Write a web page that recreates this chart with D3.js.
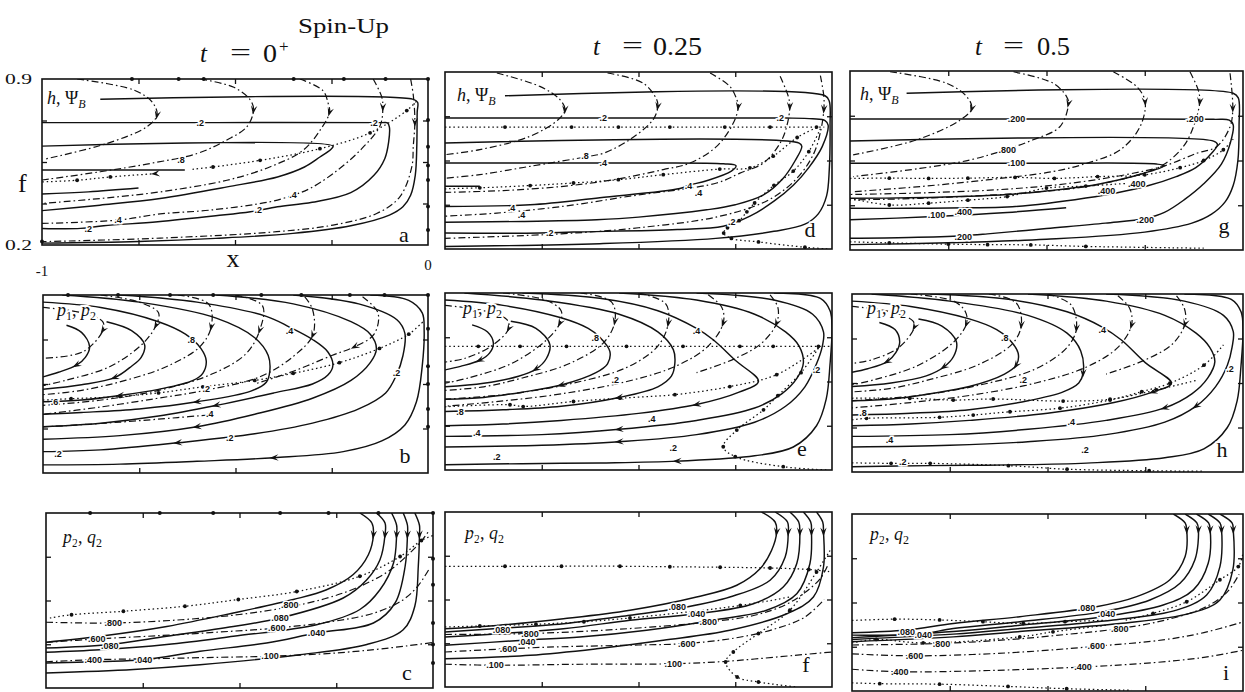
<!DOCTYPE html>
<html><head><meta charset="utf-8">
<script src="https://cdn.jsdelivr.net/npm/d3@7"></script>
<style>body{margin:0;background:#fff}svg{display:block}</style>
</head><body>
<svg id="c" width="1245" height="692"></svg>
<script>
// ---------- axes / ticks ----------
const xTicks = [-0.75, -0.5, -0.25];
const fTicks = [0.375, 0.55, 0.725];
const xEnds = [-1, 0], xEndText = ['-1', '0'];
const fEnds = [0.9, 0.2], fEndText = ['0.9', '0.2'];
const times = ['0', '0.25', '0.5'];

// ---------- panel a : h, Psi_B  t=0+ ----------
const aSolid = [
 [[-.849,.815],[-.04,.815],[-.027,.802],[-.028,.76],[-.029,.62],[-.033,.494],[-.045,.41],[-.065,.361],[-.1,.326],[-.2,.281],[-.35,.249],[-.55,.228],[-.75,.215],[-1,.208]],
 [[-1,.716],[-.55,.716],[-.12,.716],[-.105,.715],[-.1,.697],[-.102,.634],[-.112,.564],[-.14,.494],[-.2,.421],[-.3,.38],[-.39,.361],[-.46,.34],[-.55,.323],[-.7,.298],[-.84,.281],[-.9,.27],[-1,.27]],
 [[-1,.617],[-.246,.617],[-.252,.603],[-.28,.571],[-.32,.529],[-.39,.487],[-.52,.445],[-.694,.396],[-.85,.368],[-1,.345]],
 [[-1,.516],[-.63,.516]],
 [[-1,.415],[-.88,.424],[-.75,.44]]
];
const aSolidArrow = [-1,-1,-1,-1,-1];
const aDash = [
 [[-.909,.9],[-.763,.854],[-.715,.804],[-.702,.748],[-.728,.699],[-.832,.628],[-.996,.561]],
 [[-.59,.9],[-.503,.865],[-.46,.811],[-.452,.769],[-.469,.699],[-.521,.643],[-.598,.586],[-.719,.544],[-.849,.509],[-1,.474]],
 [[-.332,.9],[-.272,.851],[-.259,.799],[-.255,.76],[-.28,.683],[-.324,.599],[-.41,.529],[-.521,.473],[-.694,.424],[-.85,.396],[-1,.375]],
 [[-.142,.9],[-.12,.825],[-.117,.781],[-.124,.704],[-.176,.599],[-.246,.501],[-.306,.438],[-.35,.41],[-.41,.382],[-.565,.347],[-.694,.331],[-.803,.305],[-1,.291]],
 [[-.045,.9],[-.038,.83],[-.034,.718],[-.038,.62],[-.042,.529],[-.073,.403],[-.133,.333],[-.246,.284],[-.392,.256],[-.694,.229],[-1,.214]]
];
const aDashArrow = [3,3,3,2,2];
const aDot = [
 [[-.61,.519],[-.557,.529],[-.435,.557],[-.28,.606],[-.15,.673],[-.055,.767],[-.026,.813]],
 [[-.706,.501],[-.823,.487],[-.909,.473],[-1,.466]]
];
const aDotArrow = [-1,0];
const aLabels = [[-.59,.716,'.2'],[-.14,.716,'.2'],[-.44,.35,'.2'],[-.88,.27,'.2'],[-.64,.56,'.8'],[-.35,.41,'.4'],[-.803,.305,'.4']];
const aBorder = [[-.767,.9],[-.646,.9],[-.581,.9],[-.348,.9],[-.218,.9],[-.11,.9],[0,.9],[0,.727],[0,.614],[0,.535],[0,.474],[0,.362],[0,.263],[-1,.215]];

// ---------- panel d : t=0.25 ----------
const dSolid = [
 [[-.845,.806],[-.018,.806],[-.007,.784],[-.005,.69],[-.007,.515],[-.014,.41],[-.035,.34],[-.07,.298],[-.15,.27],[-.3,.242],[-.6,.221],[-1,.21]],
 [[-1,.718],[-.55,.718],[-.12,.718],[-.05,.715],[-.018,.708],[-.01,.69],[-.025,.606],[-.06,.522],[-.1,.452],[-.15,.389],[-.212,.33],[-.281,.29],[-.4,.277],[-.668,.267],[-.755,.263],[-1,.263]],
 [[-1,.619],[-.085,.619],[-.078,.606],[-.095,.55],[-.126,.48],[-.177,.414],[-.25,.375],[-.324,.355],[-.5,.326],[-.608,.316],[-.8,.309],[-1,.306]],
 [[-1,.54],[-.544,.54],[-.28,.537],[-.248,.529],[-.26,.508],[-.324,.47],[-.37,.452],[-.393,.439],[-.6,.403],[-.78,.375],[-1,.368]],
 [[-1,.448],[-.91,.448]]
];
const dSolidArrow = [-1,-1,-1,-1,-1];
const dDash = [
 [[-.866,.896],[-.755,.843],[-.703,.791],[-.69,.751],[-.707,.712],[-.78,.646],[-.91,.593],[-1,.573]],
 [[-.58,.896],[-.488,.856],[-.453,.791],[-.45,.764],[-.462,.712],[-.522,.633],[-.59,.579],[-.63,.566],[-.78,.527],[-.91,.494],[-1,.48]],
 [[-.315,.896],[-.264,.843],[-.246,.791],[-.242,.764],[-.255,.698],[-.298,.606],[-.367,.54],[-.436,.514],[-.565,.474],[-.694,.448],[-.85,.431],[-1,.424]],
 [[-.134,.883],[-.113,.804],[-.109,.764],[-.117,.685],[-.134,.619],[-.177,.54],[-.238,.5],[-.298,.461],[-.522,.409],[-.694,.369],[-.866,.342],[-1,.33]],
 [[-.03,.886],[-.021,.802],[-.021,.753],[-.028,.676],[-.045,.585],[-.075,.508],[-.12,.438],[-.18,.382],[-.3,.326],[-.5,.284],[-.7,.26],[-1,.242]]
];
const dDashArrow = [3,3,3,2,2];
const dDot = [
 [[-1,.682],[-.845,.682],[-.673,.682],[-.552,.682],[-.419,.682],[-.277,.682],[-.16,.682],[-.04,.682],[-.02,.682]],
 [[-.04,.68],[-.09,.641],[-.152,.567],[-.212,.521],[-.29,.516],[-.436,.494],[-.552,.474],[-.668,.461],[-.78,.451],[-.91,.442],[-1,.438]],
 [[-.03,.676],[-.06,.585],[-.1,.508],[-.15,.452],[-.2,.382],[-.22,.347],[-.24,.312],[-.27,.284],[-.28,.263],[-.26,.242],[-.19,.228],[-.07,.207],[-.01,.2]]
];
const dDotArrow = [-1,-1,-1];
const dLabels = [[-.591,.718,'.2'],[-.134,.718,'.2'],[-.729,.263,'.2'],[-.591,.54,'.4'],[-.371,.448,'.4'],[-.345,.424,'.4'],[-.828,.362,'.4'],[-.802,.336,'.4'],[-.638,.567,'.8'],[-.259,.309,'.2']];
const dBorder = [];

// ---------- panel g : t=0.5 ----------
const gSolid = [
 [[-.856,.813],[-.025,.813],[-.012,.795],[-.01,.69],[-.013,.55],[-.025,.452],[-.045,.389],[-.08,.34],[-.13,.305],[-.25,.27],[-.5,.242],[-.75,.228],[-1,.221]],
 [[-1,.712],[-.53,.712],[-.075,.711],[-.035,.708],[-.025,.69],[-.032,.62],[-.055,.536],[-.1,.459],[-.15,.396],[-.2,.347],[-.249,.323],[-.35,.305],[-.5,.284],[-.65,.263],[-.712,.256],[-.85,.249],[-1,.246]],
 [[-1,.626],[-.075,.626],[-.065,.613],[-.08,.578],[-.12,.522],[-.17,.487],[-.24,.452],[-.32,.424],[-.4,.403],[-.5,.382],[-.6,.368],[-.7,.365],[-.85,.363],[-1,.363]],
 [[-1,.539],[-.53,.539],[-.22,.536],[-.2,.529],[-.25,.501],[-.32,.473],[-.4,.449],[-.5,.431],[-.6,.417],[-.7,.41],[-.85,.404],[-1,.402]],
 [[-1,.318],[-.8,.33],[-.6,.347],[-.45,.365]]
];
const gSolidArrow = [-1,-1,-1,-1,-1];
const gDash = [
 [[-.898,.897],[-.754,.852],[-.703,.8],[-.69,.754],[-.72,.708],[-.83,.631],[-.992,.572]],
 [[-.584,.897],[-.483,.852],[-.449,.8],[-.444,.773],[-.466,.682],[-.534,.631],[-.606,.591],[-.695,.552],[-.822,.519],[-.992,.487]],
 [[-.33,.897],[-.27,.838],[-.249,.78],[-.262,.682],[-.313,.591],[-.398,.539],[-.483,.507],[-.652,.474],[-.822,.448],[-.992,.428]],
 [[-.135,.897],[-.114,.826],[-.11,.78],[-.126,.682],[-.152,.604],[-.203,.533],[-.27,.493],[-.398,.448],[-.567,.422],[-.822,.402],[-1,.396]],
 [[-.033,.891],[-.026,.754],[-.033,.682],[-.067,.604],[-.118,.578],[-.2,.529],[-.3,.494],[-.45,.459],[-.6,.438],[-.8,.424],[-1,.417]]
];
const gDashArrow = [3,3,2,2,1];
const gDot = [
 [[-1,.48],[-.9,.481],[-.8,.48],[-.7,.481],[-.58,.484],[-.48,.48],[-.37,.487],[-.25,.494],[-.16,.522],[-.1,.55],[-.05,.592],[-.025,.634]],
 [[-1,.402],[-.9,.376],[-.8,.383],[-.7,.395],[-.6,.409],[-.5,.442],[-.4,.45],[-.3,.46]],
 [[-1,.232],[-.9,.228],[-.75,.223],[-.65,.221],[-.54,.22],[-.4,.214],[-.1,.207]]
];
const gDotArrow = [-1,-1,-1];
const gLabels = [[-.576,.712,'.200'],[-.122,.712,'.200'],[-.249,.318,'.200'],[-.712,.252,'.200'],[-.576,.539,'.100'],[-.27,.46,'.400'],[-.347,.43,'.400'],[-.78,.337,'.100'],[-.712,.35,'.400'],[-.6,.59,'.800']];
const gBorder = [];

// ---------- panel b : p1, p2  t=0+ ----------
const bSolid = [
 [[-.939,.781],[-.9,.753],[-.879,.697],[-.89,.655],[-.913,.624],[-.96,.596],[-1,.578]],
 [[-.835,.795],[-.77,.76],[-.736,.704],[-.745,.655],[-.77,.62],[-.814,.575],[-.9,.547],[-1,.529]],
 [[-1,.872],[-.85,.851],[-.7,.795],[-.63,.746],[-.59,.69],[-.576,.641],[-.585,.592],[-.61,.564],[-.7,.529],[-.8,.505],[-.9,.487],[-1,.48]],
 [[-.95,.9],[-.75,.872],[-.55,.809],[-.45,.732],[-.415,.662],[-.411,.599],[-.42,.557],[-.46,.522],[-.6,.48],[-.75,.452],[-.9,.438],[-1,.431]],
 [[-.8,.9],[-.6,.872],[-.42,.816],[-.36,.774],[-.3,.725],[-.26,.676],[-.247,.624],[-.26,.585],[-.3,.55],[-.4,.515],[-.55,.466],[-.7,.424],[-.85,.396],[-1,.382]],
 [[-.55,.9],[-.35,.865],[-.2,.795],[-.15,.746],[-.134,.69],[-.15,.634],[-.2,.564],[-.3,.494],[-.45,.431],[-.6,.382],[-.8,.347],[-1,.333]],
 [[-.35,.9],[-.18,.865],[-.08,.802],[-.06,.749],[-.065,.662],[-.082,.585],[-.11,.515],[-.18,.452],[-.3,.396],[-.45,.354],[-.65,.319],[-.85,.291],[-1,.284]],
 [[-.15,.9],[-.05,.879],[-.015,.83],[-.01,.76],[-.015,.62],[-.03,.48],[-.06,.389],[-.12,.326],[-.22,.284],[-.4,.26],[-.6,.246],[-.8,.235],[-1,.232]]
];
const bSolidArrow = [4,5,9,8,10,9,10,9];
const bDash = [
 [[-1,.851],[-.9,.83],[-.845,.795],[-.844,.762],[-.896,.677],[-1,.651]],
 [[-.85,.9],[-.75,.872],[-.7,.83],[-.706,.782],[-.74,.71],[-.827,.618],[-.94,.565],[-1,.543]],
 [[-.65,.9],[-.57,.865],[-.563,.775],[-.593,.696],[-.68,.618],[-.784,.565],[-.896,.526],[-1,.508]],
 [[-.5,.9],[-.43,.858],[-.437,.762],[-.472,.67],[-.558,.591],[-.697,.526],[-.853,.486],[-1,.466]],
 [[-.32,.893],[-.3,.844],[-.299,.743],[-.351,.657],[-.437,.578],[-.576,.526],[-.706,.493],[-.853,.459],[-1,.431]],
 [[-.17,.893],[-.13,.83],[-.14,.746],[-.19,.697],[-.25,.662],[-.35,.6],[-.45,.55]],
 [[-.57,.428],[-.65,.418],[-.8,.4],[-1,.381]]
];
const bDashArrow = [3,3,2,2,2,3,0];
const bDot = [
 [[-1,.487],[-.927,.492],[-.8,.501],[-.7,.515],[-.585,.539],[-.45,.564],[-.35,.592],[-.23,.634],[-.126,.69],[-.05,.746],[-.013,.795]]
];
const bDotArrow = [-1];
const bLabels = [[-.615,.725,'.8'],[-.97,.48,'.6'],[-.576,.532,'.2'],[-.567,.434,'.4'],[-.082,.592,'.2'],[-.515,.34,'.2'],[-.961,.276,'.2'],[-.36,.76,'.4']];
const bBorder = [[-.935,.9],[-.805,.9],[-.67,.9],[-.558,.9],[-.433,.9],[-.329,.9],[-.203,.9],[-.113,.9],[0,.9],[0,.767],[0,.62],[0,.55],[0,.452],[0,.382]];

// ---------- panel e : p1, p2  t=0.25 ----------
const eSolid = [
 [[-.93,.774],[-.89,.746],[-.875,.702],[-.885,.662],[-.91,.634],[-.96,.61],[-1,.596]],
 [[-.83,.788],[-.765,.76],[-.729,.696],[-.738,.641],[-.765,.599],[-.81,.571],[-.9,.543],[-1,.529]],
 [[-1,.872],[-.85,.851],[-.7,.802],[-.63,.76],[-.6,.725],[-.574,.669],[-.58,.62],[-.61,.585],[-.7,.536],[-.8,.508],[-.9,.487],[-1,.48]],
 [[-.95,.9],[-.75,.872],[-.55,.816],[-.45,.746],[-.41,.676],[-.406,.623],[-.415,.571],[-.45,.529],[-.55,.487],[-.7,.452],[-.85,.438],[-1,.431]],
 [[-.8,.9],[-.6,.879],[-.45,.83],[-.35,.76],[-.307,.715],[-.25,.634],[-.19,.55],[-.24,.508],[-.35,.459],[-.5,.424],[-.7,.396],[-.85,.382],[-1,.375]],
 [[-.55,.9],[-.35,.872],[-.2,.816],[-.12,.746],[-.085,.69],[-.074,.623],[-.09,.564],[-.13,.501],[-.2,.445],[-.35,.396],[-.55,.361],[-.75,.34],[-1,.333]],
 [[-.35,.9],[-.15,.872],[-.05,.816],[-.022,.746],[-.025,.69],[-.04,.62],[-.07,.529],[-.12,.452],[-.2,.389],[-.35,.34],[-.55,.312],[-.75,.298],[-1,.291]],
 [[-.15,.9],[-.03,.879],[-.005,.83],[0,.76],[-.005,.62],[-.015,.48],[-.04,.375],[-.1,.291],[-.2,.256],[-.4,.235],[-.6,.228],[-.8,.225],[-1,.221]]
];
const eSolidArrow = [4,4,8,8,8,10,10,9];
const eDash = [
 [[-1,.851],[-.9,.83],[-.84,.795],[-.835,.76],[-.88,.69],[-.95,.641],[-1,.627]],
 [[-.85,.9],[-.74,.872],[-.7,.83],[-.703,.781],[-.74,.711],[-.83,.62],[-.94,.564],[-1,.543]],
 [[-.65,.9],[-.57,.865],[-.561,.788],[-.59,.704],[-.68,.62],[-.8,.564],[-.9,.529],[-1,.515]],
 [[-.5,.9],[-.43,.858],[-.423,.781],[-.45,.69],[-.53,.606],[-.67,.543],[-.83,.501],[-1,.48]],
 [[-.32,.893],[-.285,.844],[-.281,.781],[-.32,.69],[-.4,.613],[-.53,.55],[-.7,.501],[-.85,.473],[-1,.452]],
 [[-.16,.893],[-.14,.844],[-.143,.781],[-.18,.704],[-.25,.641],[-.35,.585]]
];
const eDashArrow = [3,3,2,2,2,2];
const eDot = [
 [[-1,.689],[-.914,.689],[-.806,.689],[-.686,.689],[-.531,.689],[-.385,.689],[-.238,.689],[-.152,.689],[-.035,.689],[0,.689]],
 [[-1,.45],[-.832,.458],[-.798,.451],[-.668,.471],[-.548,.484],[-.406,.498],[-.264,.53],[-.143,.577],[-.035,.682]],
 [[-.035,.682],[-.08,.585],[-.14,.494],[-.177,.438],[-.246,.358],[-.281,.292],[-.25,.253],[-.126,.213],[-.01,.2]]
];
const eDotArrow = [-1,-1,-1];
const eLabels = [[-.612,.722,'.8'],[-.56,.557,'.2'],[-.961,.431,'.8'],[-.466,.404,'.4'],[-.918,.346,'.4'],[-.04,.596,'.2'],[-.41,.286,'.2'],[-.866,.253,'.2'],[-.35,.75,'.4']];
const eBorder = [];

// ---------- panel h : p1, p2  t=0.5 ----------
const hSolid = [
 [[-.93,.788],[-.89,.76],[-.878,.712],[-.888,.669],[-.91,.634],[-.96,.606],[-1,.592]],
 [[-.83,.802],[-.77,.774],[-.733,.712],[-.74,.655],[-.765,.613],[-.81,.578],[-.9,.55],[-1,.536]],
 [[-1,.872],[-.85,.851],[-.7,.802],[-.63,.76],[-.6,.725],[-.575,.667],[-.58,.62],[-.61,.585],[-.7,.536],[-.8,.508],[-.9,.487],[-1,.48]],
 [[-.95,.9],[-.75,.872],[-.55,.816],[-.45,.746],[-.415,.676],[-.409,.588],[-.42,.55],[-.46,.515],[-.55,.48],[-.7,.445],[-.85,.431],[-1,.424]],
 [[-.8,.9],[-.6,.879],[-.45,.83],[-.36,.77],[-.311,.719],[-.25,.63],[-.183,.549],[-.23,.515],[-.33,.473],[-.5,.431],[-.7,.403],[-.85,.389],[-1,.382]],
 [[-.55,.9],[-.35,.872],[-.2,.816],[-.12,.746],[-.085,.69],[-.072,.634],[-.09,.57],[-.13,.508],[-.2,.452],[-.35,.403],[-.55,.368],[-.75,.347],[-1,.34]],
 [[-.35,.9],[-.15,.872],[-.05,.816],[-.025,.753],[-.028,.69],[-.04,.62],[-.07,.536],[-.12,.459],[-.2,.396],[-.35,.347],[-.55,.319],[-.75,.305],[-1,.298]],
 [[-.15,.9],[-.03,.879],[-.005,.83],[0,.76],[-.005,.62],[-.015,.48],[-.04,.375],[-.1,.291],[-.2,.256],[-.4,.235],[-.6,.228],[-.8,.225],[-1,.221]]
];
const hSolidArrow = [4,4,6,5,7,8,7,-1];
const hDash = [
 [[-1,.851],[-.9,.83],[-.845,.795],[-.84,.771],[-.88,.69],[-.95,.641],[-1,.627]],
 [[-.85,.9],[-.74,.872],[-.71,.83],[-.707,.784],[-.74,.711],[-.83,.62],[-.94,.564],[-1,.543]],
 [[-.65,.9],[-.58,.865],[-.567,.778],[-.59,.704],[-.68,.62],[-.8,.564],[-.9,.529],[-1,.515]],
 [[-.5,.9],[-.44,.858],[-.426,.765],[-.45,.69],[-.53,.606],[-.67,.543],[-.83,.501],[-1,.48]],
 [[-.32,.893],[-.29,.844],[-.285,.778],[-.32,.69],[-.4,.613],[-.53,.55],[-.7,.501],[-.85,.473],[-1,.452]],
 [[-.17,.893],[-.15,.844],[-.148,.784],[-.18,.704],[-.25,.641],[-.35,.585]]
];
const hDashArrow = [3,3,2,2,2,2];
const hDot = [
 [[-1,.49],[-.852,.49],[-.741,.483],[-.639,.487],[-.46,.479],[-.34,.486],[-.221,.523],[-.12,.56]],
 [[-1,.405],[-.963,.411],[-.776,.415],[-.69,.424],[-.596,.437],[-.468,.451],[-.34,.483],[-.259,.516],[-.187,.549],[-.1,.62],[-.05,.7]],
 [[-1,.236],[-.9,.234],[-.8,.234],[-.6,.225],[-.45,.211],[-.24,.205],[-.1,.203]]
];
const hDotArrow = [-1,-1,-1];
const hLabels = [[-.609,.726,'.8'],[-.562,.562,'.2'],[-.972,.431,'.8'],[-.439,.398,'.4'],[-.904,.326,'.4'],[-.033,.607,'.2'],[-.404,.287,'.2'],[-.87,.241,'.2'],[-.36,.76,'.4']];
const hBorder = [];

// ---------- panel c : p2, q2  t=0+ ----------
const cSolid = [
 [[-.189,.9],[-.158,.86],[-.154,.813],[-.167,.733],[-.206,.654],[-.275,.593],[-.361,.554],[-.516,.5],[-.688,.446],[-.86,.407],[-1,.383]],
 [[-.146,.9],[-.124,.86],[-.124,.813],[-.137,.713],[-.171,.633],[-.232,.56],[-.395,.48],[-.516,.446],[-.688,.407],[-.835,.374],[-1,.36]],
 [[-.107,.9],[-.094,.851],[-.094,.813],[-.102,.7],[-.137,.593],[-.189,.514],[-.301,.453],[-.516,.407],[-.688,.374],[-.86,.353],[-1,.343]],
 [[-.077,.9],[-.066,.851],[-.066,.813],[-.072,.687],[-.098,.54],[-.154,.46],[-.301,.42],[-.43,.38],[-.602,.347],[-.748,.313],[-.86,.306],[-1,.3]],
 [[-.047,.9],[-.035,.851],[-.035,.813],[-.038,.687],[-.047,.527],[-.077,.433],[-.171,.374],[-.344,.333],[-.602,.293],[-.774,.274],[-1,.26]]
];
const cSolidArrow = [2,2,2,2,2];
const cDash = [
 [[-1,.463],[-.83,.46],[-.65,.473],[-.5,.494],[-.38,.522],[-.28,.557],[-.2,.599],[-.12,.662],[-.07,.725],[-.03,.788],[-.01,.83]],
 [[-1,.382],[-.87,.396],[-.7,.41],[-.55,.424],[-.404,.44],[-.26,.466],[-.15,.501],[-.08,.55],[-.04,.606],[-.01,.676]],
 [[-1,.305],[-.878,.313],[-.7,.318],[-.55,.323],[-.421,.327],[-.25,.34],[-.15,.354],[-.07,.368],[0,.382]]
];
const cDashArrow = [-1,-1,-1];
const cDot = [
 [[-.99,.48],[-.934,.493],[-.8,.507],[-.641,.527],[-.503,.554],[-.352,.586],[-.189,.647],[-.085,.726],[-.03,.79],[0,.81]]
];
const cDotArrow = [-1];
const cLabels = [[-.835,.367,'.080'],[-.869,.396,'.600'],[-.878,.313,'.400'],[-.748,.313,'.040'],[-.826,.46,'.800'],[-.37,.533,'.800'],[-.395,.48,'.080'],[-.404,.44,'.600'],[-.301,.42,'.040'],[-.421,.327,'.100']];
const cBorder = [[-.886,.9],[-.706,.9],[-.568,.9],[-.395,.9],[-.27,.9],[-.141,.9],[0,.9],[0,.717],[0,.613],[0,.46],[0,.374],[0,.3]];

// ---------- panel f : p2, q2  t=0.25 ----------
const fSolid = [
 [[-.182,.9],[-.147,.86],[-.143,.82],[-.156,.747],[-.186,.673],[-.246,.607],[-.35,.56],[-.522,.507],[-.694,.473],[-.866,.446],[-1,.433]],
 [[-.147,.9],[-.115,.86],[-.113,.82],[-.121,.72],[-.16,.627],[-.264,.56],[-.376,.52],[-.522,.487],[-.694,.453],[-.875,.433],[-1,.42]],
 [[-.109,.9],[-.086,.86],[-.083,.82],[-.091,.694],[-.126,.6],[-.203,.533],[-.35,.493],[-.522,.467],[-.694,.433],[-1,.4]],
 [[-.074,.9],[-.055,.86],[-.053,.82],[-.057,.694],[-.091,.573],[-.169,.507],[-.307,.467],[-.479,.427],[-.651,.4],[-.798,.387],[-1,.367]],
 [[-.04,.9],[-.024,.86],[-.022,.82],[-.022,.68],[-.048,.56],[-.117,.493],[-.264,.427],[-.436,.387],[-.608,.353],[-.78,.327],[-1,.313]]
];
const fSolidArrow = [2,2,2,2,2];
const fDash = [
 [[-1,.34],[-.836,.353],[-.7,.361],[-.5,.368],[-.375,.374],[-.25,.396],[-.15,.431],[-.07,.48],[-.02,.55]],
 [[-1,.291],[-.87,.287],[-.65,.291],[-.41,.293],[-.28,.302],[-.2,.312],[-.1,.326],[0,.34]],
 [[-1,.41],[-.78,.414],[-.55,.431],[-.32,.46],[-.2,.487],[-.12,.529],[-.07,.578],[-.03,.634],[-.01,.69]]
];
const fDashArrow = [-1,-1,-1];
const fDot = [
 [[-1,.683],[-.845,.683],[-.699,.683],[-.548,.683],[-.419,.681],[-.289,.679],[-.16,.676],[-.06,.67],[0,.66]],
 [[-.005,.746],[-.04,.66],[-.109,.507],[-.19,.414],[-.255,.34],[-.275,.3],[-.245,.24],[-.19,.22],[-.09,.2]],
 [[-1,.44],[-.91,.444],[-.765,.451],[-.641,.461],[-.522,.476],[-.237,.526],[-.109,.56]]
];
const fDotArrow = [-1,-1,-1];
const fLabels = [[-.854,.427,'.080'],[-.4,.52,'.080'],[-.78,.413,'.800'],[-.789,.38,'.040'],[-.836,.353,'.600'],[-.35,.493,'.040'],[-.32,.46,'.800'],[-.375,.374,'.600'],[-.871,.287,'.100'],[-.41,.293,'.100']];
const fBorder = [];

// ---------- panel i : p2, q2  t=0.5 ----------
const iSolid = [
 [[-.178,.9],[-.148,.865],[-.144,.838],[-.148,.732],[-.187,.64],[-.272,.573],[-.375,.533],[-.571,.494],[-.741,.467],[-.861,.441],[-1,.43]],
 [[-.148,.9],[-.118,.865],[-.114,.838],[-.123,.719],[-.161,.626],[-.238,.56],[-.358,.514],[-.571,.474],[-.741,.447],[-.827,.425],[-1,.421]],
 [[-.119,.9],[-.088,.865],[-.084,.838],[-.089,.705],[-.127,.6],[-.204,.54],[-.358,.494],[-.571,.46],[-.741,.435],[-1,.411]],
 [[-.089,.9],[-.059,.865],[-.055,.838],[-.059,.692],[-.093,.58],[-.17,.52],[-.332,.481],[-.571,.447],[-.741,.425],[-1,.404]],
 [[-.059,.9],[-.028,.865],[-.025,.838],[-.026,.679],[-.059,.56],[-.136,.507],[-.315,.467],[-.571,.435],[-.741,.414],[-1,.395]]
];
const iSolidArrow = [2,2,2,2,2];
const iDash = [
 [[-1,.382],[-.771,.388],[-.6,.403],[-.45,.424],[-.315,.447],[-.2,.48],[-.1,.529],[-.04,.592],[-.01,.662]],
 [[-1,.347],[-.84,.339],[-.6,.351],[-.375,.377],[-.2,.403],[-.1,.431],[0,.473]],
 [[-1,.286],[-.878,.276],[-.65,.281],[-.409,.295],[-.23,.312],[-.1,.333],[0,.361]]
];
const iDashArrow = [-1,-1,-1];
const iDot = [
 [[-1,.479],[-.891,.484],[-.776,.481],[-.665,.474],[-.562,.467],[-.455,.474],[-.35,.48]],
 [[-1,.39],[-.938,.404],[-.818,.39],[-.571,.414],[-.486,.434],[-.35,.46]],
 [[-1,.232],[-.929,.229],[-.776,.227],[-.601,.218],[-.451,.209],[-.285,.203]],
 [[-.3,.48],[-.23,.507],[-.144,.553],[-.059,.64],[-.012,.692],[0,.745]]
];
const iDotArrow = [-1,-1,-1,-1];
const iLabels = [[-.4,.527,'.080'],[-.349,.507,'.040'],[-.861,.434,'.080'],[-.818,.421,'.040'],[-.771,.388,'.800'],[-.315,.447,'.800'],[-.84,.339,'.600'],[-.375,.377,'.600'],[-.878,.276,'.400'],[-.409,.295,'.400']];
const iBorder = [];

// ---------- layout ----------
const panels = [
 {box:[42,79,428,245], S:aSolid,SA:aSolidArrow,D:aDash,DA:aDashArrow,O:aDot,OA:aDotArrow,lab:aLabels,bd:aBorder,title:'h',tp:[47,104],letter:'a',lp:[404,242]},
 {box:[445,72,832,249], S:dSolid,SA:dSolidArrow,D:dDash,DA:dDashArrow,O:dDot,OA:dDotArrow,lab:dLabels,bd:dBorder,title:'h',tp:[457,101],letter:'d',lp:[810,237]},
 {box:[850,71,1243,250], S:gSolid,SA:gSolidArrow,D:gDash,DA:gDashArrow,O:gDot,OA:gDotArrow,lab:gLabels,bd:gBorder,title:'h',tp:[860,100],letter:'g',lp:[1224,233]},
 {box:[43,295,428,473], S:bSolid,SA:bSolidArrow,D:bDash,DA:bDashArrow,O:bDot,OA:bDotArrow,lab:bLabels,bd:bBorder,title:'p',tp:[57,316],letter:'b',lp:[405,463]},
 {box:[445,293,832,470], S:eSolid,SA:eSolidArrow,D:eDash,DA:eDashArrow,O:eDot,OA:eDotArrow,lab:eLabels,bd:eBorder,title:'p',tp:[463,314],letter:'e',lp:[802,456]},
 {box:[852,294,1243,472], S:hSolid,SA:hSolidArrow,D:hDash,DA:hDashArrow,O:hDot,OA:hDotArrow,lab:hLabels,bd:hBorder,title:'p',tp:[867,314],letter:'h',lp:[1222,457]},
 {box:[46,513,433,688], S:cSolid,SA:cSolidArrow,D:cDash,DA:cDashArrow,O:cDot,OA:cDotArrow,lab:cLabels,bd:cBorder,title:'q',tp:[63,543],letter:'c',lp:[407,680]},
 {box:[445,512,832,687], S:fSolid,SA:fSolidArrow,D:fDash,DA:fDashArrow,O:fDot,OA:fDotArrow,lab:fLabels,bd:fBorder,title:'q',tp:[465,539],letter:'f',lp:[806,672]},
 {box:[852,514,1243,691], S:iSolid,SA:iSolidArrow,D:iDash,DA:iDashArrow,O:iDot,OA:iDotArrow,lab:iLabels,bd:iBorder,title:'q',tp:[870,540],letter:'i',lp:[1226,680]}
];

const svg = d3.select('#c');
const INK = '#111';
const SERIF = "'Liberation Serif','Times New Roman',Times,serif";
const defs = svg.append('defs');

panels.forEach((p, k) => {
  const [L, T, R, B] = p.box;
  const x = d3.scaleLinear().domain([-1, 0]).range([L, R]);
  const y = d3.scaleLinear().domain([0.2, 0.9]).range([B, T]);
  defs.append('clipPath').attr('id', 'cl' + k).append('rect')
    .attr('x', L).attr('y', T).attr('width', R - L).attr('height', B - T);
  const g = svg.append('g');
  const cg = g.append('g').attr('clip-path', `url(#cl${k})`);
  const line = d3.line().x(d => x(d[0])).y(d => y(d[1])).curve(d3.curveCatmullRom.alpha(0.5));

  const draw = (curves, dash, w) => cg.append('g').selectAll('path').data(curves).join('path')
    .attr('d', line).attr('fill', 'none').attr('stroke', INK).attr('stroke-width', w)
    .attr('stroke-dasharray', dash).attr('stroke-linecap', 'butt');
  draw(p.S, null, 1.45);
  draw(p.D, '7,3,1.6,3', 1.2);
  draw(p.O, '1.5,2.8', 1.25);

  p.O.forEach(c => {
    cg.append('g').selectAll('circle').data(c.slice(1, -1)).join('circle')
      .attr('cx', d => x(d[0])).attr('cy', d => y(d[1])).attr('r', 1.9).attr('fill', INK);
  });

  const arrow = (c, i) => {
    if (i < 0) return;
    const P = c.map(d => [x(d[0]), y(d[1])]);
    const a = P[Math.max(0, i - 1)], b = P[Math.min(P.length - 1, i + 1)];
    let dx = b[0] - a[0], dy = b[1] - a[1];
    const n = Math.hypot(dx, dy) || 1; dx /= n; dy /= n;
    const [px, py] = P[i]; const s = 4.5, w = 3.2;
    const tip = [px + dx * s, py + dy * s];
    const bl = [px - dx * s - dy * w, py - dy * s + dx * w];
    const br = [px - dx * s + dy * w, py - dy * s - dx * w];
    const mid = [px - dx * s * 0.2, py - dy * s * 0.2];
    cg.append('path').attr('d', `M${tip}L${bl}L${mid}L${br}Z`).attr('fill', INK);
  };
  p.S.forEach((c, j) => arrow(c, p.SA[j]));
  p.D.forEach((c, j) => arrow(c, p.DA[j]));
  p.O.forEach((c, j) => arrow(c, p.OA[j]));

  g.append('g').selectAll('text').data(p.lab).join('text')
    .attr('x', d => x(d[0])).attr('y', d => y(d[1])).attr('dy', '0.35em')
    .attr('text-anchor', 'middle').text(d => d[2])
    .attr('font-family', "'Liberation Sans',Arial,sans-serif").attr('font-size', 9).attr('font-weight', 'bold')
    .attr('fill', INK).attr('stroke', '#fff').attr('stroke-width', 3).attr('paint-order', 'stroke');

  g.append('rect').attr('x', L).attr('y', T).attr('width', R - L).attr('height', B - T)
    .attr('fill', 'none').attr('stroke', INK).attr('stroke-width', 1.6);

  const ax = (gen, tr) => {
    const a = g.append('g').attr('transform', tr).call(gen);
    a.select('.domain').remove(); a.selectAll('text').remove();
    a.selectAll('line').attr('stroke', INK).attr('stroke-width', 1.3);
  };
  ax(d3.axisBottom(x).tickValues(xTicks).tickSize(-5), `translate(0,${B})`);
  ax(d3.axisTop(x).tickValues(xTicks).tickSize(-5), `translate(0,${T})`);
  ax(d3.axisLeft(y).tickValues(fTicks).tickSize(-5), `translate(${L},0)`);
  ax(d3.axisRight(y).tickValues(fTicks).tickSize(-5), `translate(${R},0)`);

  g.append('g').selectAll('circle').data(p.bd).join('circle')
    .attr('cx', d => x(d[0])).attr('cy', d => y(d[1])).attr('r', 2).attr('fill', INK);

  const t = g.append('text').attr('x', p.tp[0]).attr('y', p.tp[1])
    .attr('font-family', SERIF).attr('font-size', 18).attr('fill', INK)
    .attr('stroke', '#fff').attr('stroke-width', 4).attr('paint-order', 'stroke');
  if (p.title === 'h') {
    t.append('tspan').attr('font-style', 'italic').text('h');
    t.append('tspan').text(', Ψ');
    t.append('tspan').attr('font-style', 'italic').attr('font-size', 12).attr('dy', 4).text('B');
  } else {
    const sy = p.title === 'p' ? ['p', '1', 'p', '2'] : ['p', '2', 'q', '2'];
    t.append('tspan').attr('font-style', 'italic').text(sy[0]);
    t.append('tspan').attr('font-size', 12).attr('dy', 4).text(sy[1]);
    t.append('tspan').attr('dy', -4).text(', ');
    t.append('tspan').attr('font-style', 'italic').text(sy[2]);
    t.append('tspan').attr('font-size', 12).attr('dy', 4).text(sy[3]);
  }

  g.append('text').attr('x', p.lp[0]).attr('y', p.lp[1]).attr('text-anchor', 'middle')
    .attr('font-family', SERIF).attr('font-size', 22).attr('fill', INK)
    .attr('stroke', '#fff').attr('stroke-width', 3).attr('paint-order', 'stroke').text(p.letter);

  if (k === 0) {
    svg.selectAll(null).data(xEnds).join('text')
      .attr('x', d => x(d)).attr('y', (d, i) => i === 0 ? 276 : 270).attr('text-anchor', 'middle')
      .attr('font-family', SERIF).attr('font-size', 15).attr('fill', INK).text((d, i) => xEndText[i]);
    svg.selectAll(null).data(fEnds).join('text')
      .attr('x', 5).attr('y', d => y(d) + 5)
      .attr('font-family', SERIF).attr('font-size', 15).attr('fill', INK)
      .attr('textLength', 27).attr('lengthAdjust', 'spacingAndGlyphs').text((d, i) => fEndText[i]);
    svg.append('text').attr('x', 18).attr('y', 192).attr('font-family', SERIF).attr('font-size', 26).attr('fill', INK).text('f');
    svg.append('text').attr('x', 233).attr('y', 267).attr('text-anchor', 'middle').attr('font-family', SERIF).attr('font-size', 26).attr('fill', INK).text('x');
  }
});

svg.append('text').attr('x', 298).attr('y', 33).attr('font-family', SERIF).attr('font-size', 22)
  .attr('fill', INK).attr('textLength', 91).attr('lengthAdjust', 'spacingAndGlyphs').text('Spin-Up');

const colTitle = (tx, ex, nx, base, nw, val, plus) => {
  svg.append('text').attr('x', tx).attr('y', base).attr('font-family', SERIF).attr('font-size', 25)
    .attr('font-style', 'italic').attr('fill', INK).text('t');
  svg.append('text').attr('x', ex).attr('y', base - 1).attr('font-family', SERIF).attr('font-size', 25)
    .attr('fill', INK).attr('textLength', 21).attr('lengthAdjust', 'spacingAndGlyphs').text('=');
  svg.append('text').attr('x', nx).attr('y', base).attr('font-family', SERIF).attr('font-size', 25)
    .attr('fill', INK).attr('textLength', nw).attr('lengthAdjust', 'spacingAndGlyphs').text(val);
  if (plus) svg.append('text').attr('x', nx + nw + 2).attr('y', base - 10).attr('font-family', SERIF)
    .attr('font-size', 17).attr('fill', INK).text('+');
};
colTitle(200, 230, 263, 62, 14, times[0], true);
colTitle(593, 622, 653, 55, 49, times[1], false);
colTitle(975, 1003, 1037, 55, 33, times[2], false);
</script>
</body></html>
